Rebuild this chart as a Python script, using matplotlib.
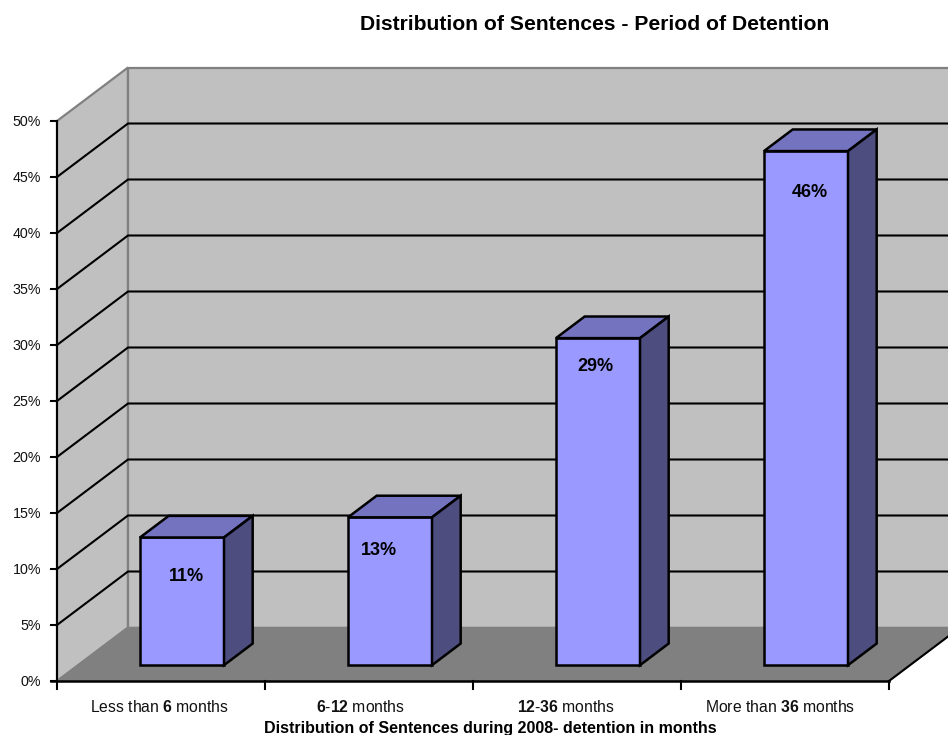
import matplotlib
matplotlib.use('Agg')
import matplotlib.pyplot as plt
from matplotlib.patches import Polygon

plt.rcParams['font.family'] = 'Liberation Sans'
plt.rcParams['mathtext.fontset'] = 'custom'
plt.rcParams['mathtext.rm'] = 'Liberation Sans'
plt.rcParams['mathtext.bf'] = 'Liberation Sans:bold'

# Data
categories = ['Less than $\\mathbf{6}$ months', '$\\mathbf{6\\text{-}12}$ months',
              '$\\mathbf{12\\text{-}36}$ months', 'More than $\\mathbf{36}$ months']
values = [11.4, 13.2, 29.2, 45.9]
value_labels = ['11%', '13%', '29%', '46%']
y_ticks = [0, 5, 10, 15, 20, 25, 30, 35, 40, 45, 50]

# Fake 3D: depth 0 is the front of the floor, depth 1 is the back wall
px_x = 208
px_y = 11.2
depth_x = 71 / px_x
depth_y = 53.5 / px_y
bar_width = 84 / px_x
bar_start = 0.298
bar_front = 0.296
bar_back = 0.70

# hand placement of the labels, in pixels
label_dx = [4, -11, -3, 4]
label_drop = [39, 33, 28, 41]
cat_dx = [-2, -9, -11, -5]


def proj(x, y, d=0):
    return (x + d * depth_x, y + d * depth_y)


def face(points, color, edge='black', lw=1.8, z=3):
    ax.add_patch(Polygon([proj(*p) for p in points], closed=True, facecolor=color,
                         edgecolor=edge, linewidth=lw, joinstyle='miter', zorder=z))


fig = plt.figure(figsize=(9.48, 7.35), dpi=100)
ax = fig.add_axes([0, 0, 1, 1])
ax.set_xlim(-57 / px_x, (948 - 57) / px_x)
ax.set_ylim(-54 / px_y, 681 / px_y)
ax.axis('off')

n = len(categories)
top = y_ticks[-1]
tick_x = -6 / px_x

# walls and floor
face([(0, 0, 0), (0, 0, 1), (0, top, 1), (0, top, 0)], '#c0c0c0', '#808080', 1.6, 1)
face([(0, 0, 1), (n, 0, 1), (n, top, 1), (0, top, 1)], '#c0c0c0', '#808080', 1.6, 1)
face([(0, 0, 0), (n, 0, 0), (n, 0, 1), (0, 0, 1)], '#808080', '#808080', 1, 1)

# gridlines run along the side wall and then the back wall
for t in y_ticks[1:-1]:
    xs, ys = zip(proj(0, t, 0), proj(0, t, 1), proj(n, t, 1))
    ax.plot(xs, ys, color='black', lw=1.5, zorder=2, solid_joinstyle='miter')

# axis lines and ticks
ax.plot([0, 0], [0, top], color='black', lw=1.5, zorder=2)
ax.plot([tick_x, n], [0, 0], color='black', lw=1.8, zorder=2)
ax.plot(*zip(proj(n, 0, 0), proj(n, 0, 1)), color='black', lw=1.5, zorder=2)
for i in range(n + 1):
    ax.plot([i, i], [0, -0.75], color='black', lw=1.5, zorder=2)
for t in y_ticks:
    ax.plot([tick_x, 0], [t, t], color='black', lw=1.5, zorder=2)
    ax.text(-16 / px_x, t - 0.1, f'{t}%', ha='right', va='center', fontsize=10.3,
            color='#111111', zorder=5)

# bars
for i, v in enumerate(values):
    x0 = i + bar_start
    x1 = x0 + bar_width
    face([(x0, 0, bar_front), (x1, 0, bar_front), (x1, v, bar_front), (x0, v, bar_front)], '#9999ff')
    face([(x0, v, bar_front), (x1, v, bar_front), (x1, v, bar_back), (x0, v, bar_back)], '#7373bf')
    face([(x1, 0, bar_front), (x1, 0, bar_back), (x1, v, bar_back), (x1, v, bar_front)], '#4d4d80')
    lx, ly = proj(x0 + bar_width / 2, v, bar_front)
    ax.text(lx + label_dx[i] / px_x, ly - label_drop[i] / px_y, value_labels[i], ha='center',
            va='center', fontsize=13, fontweight='bold', zorder=6)

for i, c in enumerate(categories):
    ax.text(i + 0.5 + cat_dx[i] / px_x, -2.33, c, ha='center', va='center', fontsize=11.3,
            color='#111111')

ax.text((595 - 57) / px_x, (681 - 25) / px_y, 'Distribution of Sentences - Period of Detention',
        ha='center', va='center', fontsize=15.2, fontweight='bold')
ax.text((490 - 57) / px_x, (681 - 728) / px_y, 'Distribution of Sentences during 2008- detention in months',
        ha='center', va='center', fontsize=11.5, fontweight='bold')

plt.savefig('out.png', dpi=100)
